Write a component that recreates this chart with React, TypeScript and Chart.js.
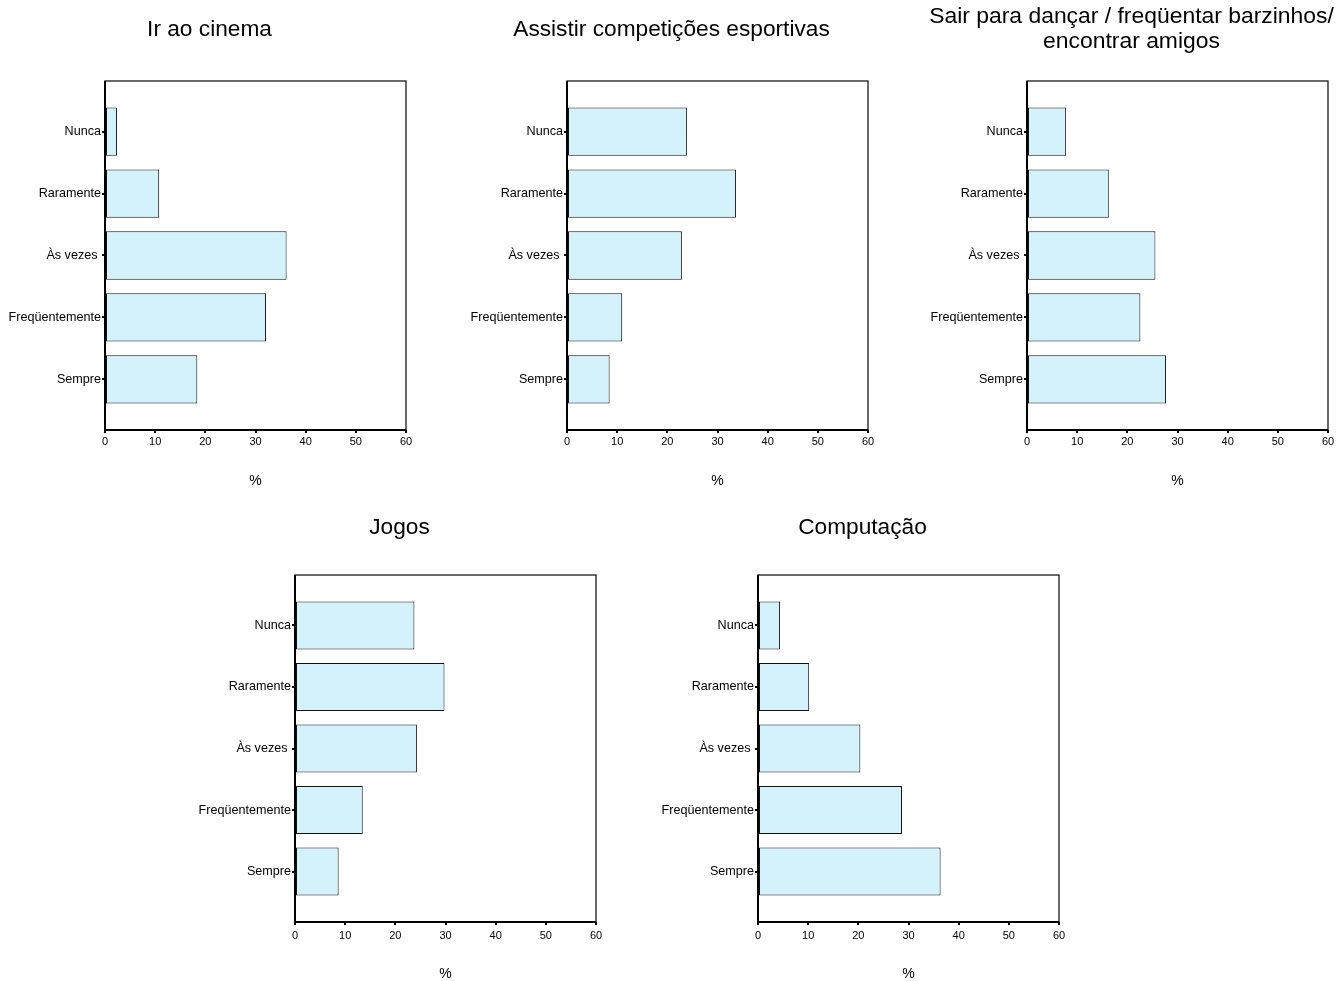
import React, { useEffect, useRef } from "react";
import { Chart, registerables } from "chart.js";

Chart.register(...registerables);

// ---- data ----
const CATEGORIES = ["Nunca", "Raramente", "Às vezes ", "Freqüentemente", "Sempre"];
const X_TICKS = [0, 10, 20, 30, 40, 50, 60];

const CINEMA = [2.4, 10.8, 36.2, 32.1, 18.4];
const ESPORTES = [23.9, 33.7, 22.9, 11.0, 8.5];
const SAIR = [7.8, 16.3, 25.6, 22.6, 27.7];
const JOGOS = [23.8, 29.8, 24.3, 13.5, 8.7];
const COMPUTACAO = [4.4, 10.2, 20.4, 28.7, 36.4];

const TITLE_CINEMA = "Ir ao cinema";
const TITLE_ESPORTES = "Assistir competições esportivas";
const TITLE_SAIR = ["Sair para dançar / freqüentar barzinhos/", "encontrar amigos"];
const TITLE_JOGOS = "Jogos";
const TITLE_COMPUTACAO = "Computação";
const AXIS_TITLE = "%";

const FONT = "'Liberation Sans', Arial, Helvetica, sans-serif";

const framePlugin = {
  id: "frame",
  afterDatasetsDraw(chart: any) {
    const { ctx, chartArea } = chart;
    ctx.save();
    ctx.strokeStyle = "#1a1a1a";
    ctx.lineWidth = 1.3;
    ctx.strokeRect(chartArea.left, chartArea.top, chartArea.right - chartArea.left, chartArea.bottom - chartArea.top);
    ctx.lineWidth = 2;
    ctx.strokeStyle = "#000";
    ctx.beginPath();
    ctx.moveTo(chartArea.left, chartArea.top);
    ctx.lineTo(chartArea.left, chartArea.bottom);
    ctx.lineTo(chartArea.right, chartArea.bottom);
    ctx.stroke();
    ctx.restore();
  },
};

type PanelProps = {
  values: number[];
  title: string | string[];
  left: number;
  top: number;
  titleSize: number;
  titlePadTop: number;
  titlePadBottom: number;
  xAxisHeight: number;
  xTickPad: number;
  pctPadBottom: number;
};

function Panel(p: PanelProps) {
  const ref = useRef<HTMLCanvasElement | null>(null);
  useEffect(() => {
    if (!ref.current) return;
    const chart = new Chart(ref.current, {
      type: "bar",
      data: {
        datasets: [
          {
            data: p.values.map((v, i) => ({ x: v, y: i })),
            backgroundColor: "#d4f2fc",
            borderColor: "#111",
            borderWidth: 1,
            borderSkipped: false,
            categoryPercentage: 1,
            barPercentage: 0.78,
            xAxisID: "x",
            yAxisID: "y",
          } as any,
        ],
      },
      options: {
        animation: false,
        responsive: false,
        indexAxis: "y",
        layout: { padding: { left: 0, right: 1, top: 0, bottom: 0 } },
        plugins: {
          legend: { display: false },
          tooltip: { enabled: false },
          title: {
            display: true,
            text: p.title,
            color: "#000",
            font: { family: FONT, size: p.titleSize, weight: "normal", lineHeight: 25 / p.titleSize },
            padding: { top: p.titlePadTop, bottom: p.titlePadBottom },
          },
        },
        scales: {
          y: {
            type: "linear",
            position: "left",
            min: -0.82,
            max: 4.82,
            reverse: true,
            offset: false,
            afterBuildTicks: (scale: any) => {
              scale.ticks = CATEGORIES.map((_, i) => ({ value: i }));
            },
            afterFit: (scale: any) => {
              scale.width = 105;
            },
            border: { display: false },
            grid: { offset: false, drawOnChartArea: false, drawTicks: true, tickLength: 3, color: "#000", lineWidth: 2 },
            ticks: {
              color: "#000",
              padding: 1,
              font: { family: FONT, size: 12.6 },
              callback: (v: any) => CATEGORIES[v as number],
            },
          },
          yRight: {
            type: "linear",
            position: "right",
            display: true,
            min: 0,
            max: 1,
            afterFit: (scale: any) => {
              scale.width = 13;
            },
            border: { display: false },
            grid: { display: false, drawTicks: false },
            ticks: { display: false },
          },
          x: {
            type: "linear",
            min: 0,
            max: 60,
            offset: false,
            afterBuildTicks: (scale: any) => {
              scale.ticks = X_TICKS.map((v) => ({ value: v }));
            },
            afterFit: (scale: any) => {
              scale.height = p.xAxisHeight;
            },
            border: { display: false },
            grid: { offset: false, drawOnChartArea: false, drawTicks: true, tickLength: 3, color: "#000", lineWidth: 2 },
            ticks: { color: "#000", padding: p.xTickPad, maxRotation: 0, font: { family: FONT, size: 11 } },
            title: {
              display: true,
              text: AXIS_TITLE,
              color: "#000",
              font: { family: FONT, size: 14 },
              padding: { top: 0, bottom: p.pctPadBottom },
            },
          },
        },
      } as any,
      plugins: [framePlugin],
    });
    return () => chart.destroy();
  }, []);
  return (
    <canvas
      ref={ref}
      width={420}
      height={495}
      style={{ position: "absolute", left: p.left, top: p.top, width: 420, height: 495 }}
    />
  );
}

export default function App() {
  return (
    <div
      style={{
        position: "absolute",
        left: 0,
        top: 0,
        width: 1338,
        height: 981,
        overflow: "hidden",
        background: "#fff",
      }}
    >
      <Panel values={CINEMA} title={TITLE_CINEMA} left={0} top={0} titleSize={22.7} titlePadTop={17} titlePadBottom={39} xAxisHeight={65} xTickPad={2} pctPadBottom={5.6} />
      <Panel values={ESPORTES} title={TITLE_ESPORTES} left={462} top={0} titleSize={22.7} titlePadTop={17} titlePadBottom={39} xAxisHeight={65} xTickPad={2} pctPadBottom={5.6} />
      <Panel values={SAIR} title={TITLE_SAIR} left={922} top={0} titleSize={22.9} titlePadTop={4.5} titlePadBottom={26.5} xAxisHeight={65} xTickPad={2} pctPadBottom={5.6} />
      <Panel values={JOGOS} title={TITLE_JOGOS} left={190} top={490} titleSize={22.7} titlePadTop={25.5} titlePadBottom={34.5} xAxisHeight={63} xTickPad={4} pctPadBottom={2.6} />
      <Panel values={COMPUTACAO} title={TITLE_COMPUTACAO} left={653} top={490} titleSize={22.7} titlePadTop={25.5} titlePadBottom={34.5} xAxisHeight={63} xTickPad={4} pctPadBottom={2.6} />
    </div>
  );
}
